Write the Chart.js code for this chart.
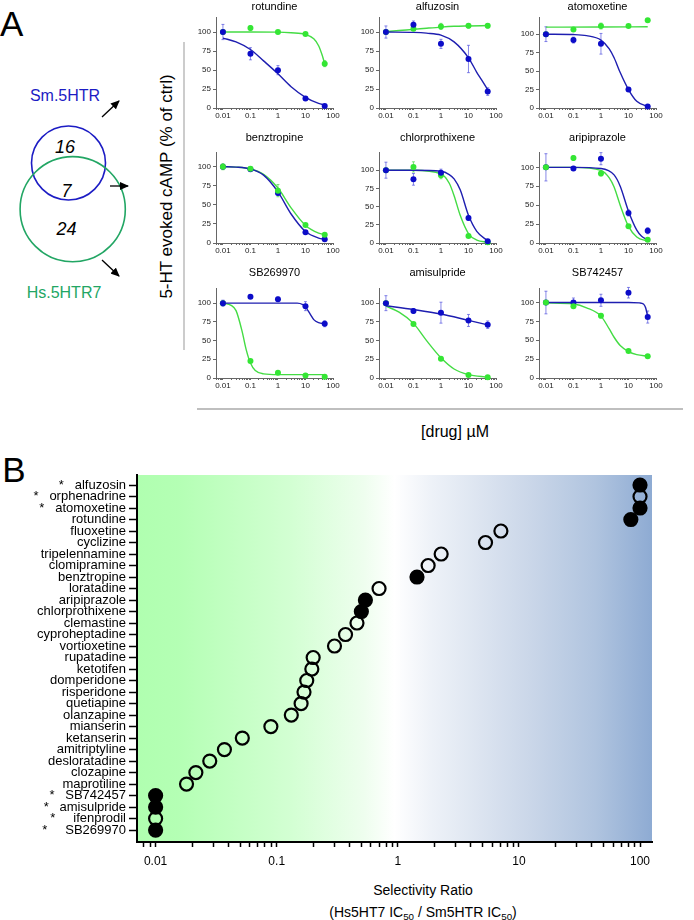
<!DOCTYPE html>
<html>
<head>
<meta charset="utf-8">
<script src="https://cdn.jsdelivr.net/npm/chart.js@4.4.1/dist/chart.umd.min.js"></script>
<style>
  body { margin: 0; background: #fff; font-family: "Liberation Sans", Arial, sans-serif; }
  #page { position: relative; width: 694px; height: 920px; overflow: hidden; }
  #page canvas, #page svg, .lbl { position: absolute; }
  .lbl { color: #000; white-space: nowrap; transform: translate(-50%, -50%); }
  sub { font-size: 70%; vertical-align: -0.3em; line-height: 0; }
</style>
</head>
<body>
<div id="page">
  <svg width="694" height="440" style="left:0;top:0">
    <defs>
      <marker id="ah" markerWidth="9" markerHeight="8" refX="8" refY="4" orient="auto" markerUnits="userSpaceOnUse">
        <path d="M0,0 L9,4 L0,8 z" fill="#000"/>
      </marker>
    </defs>
    <text x="0" y="36" font-size="35" font-family="Liberation Sans, Arial">A</text>
    <text x="65" y="101" font-size="16" fill="#1c1cc4" text-anchor="middle" font-family="Liberation Sans, Arial">Sm.5HTR</text>
    <circle cx="68.5" cy="163" r="37" fill="none" stroke="#1c1cc4" stroke-width="1.6"/>
    <circle cx="72.7" cy="209.2" r="52.6" fill="none" stroke="#22a664" stroke-width="1.6"/>
    <g font-size="18" font-style="italic" text-anchor="middle" font-family="Liberation Sans, Arial">
      <text x="65" y="153">16</text>
      <text x="66.5" y="197">7</text>
      <text x="66.5" y="235">24</text>
    </g>
    <text x="64" y="298" font-size="16" fill="#22a664" text-anchor="middle" font-family="Liberation Sans, Arial">Hs.5HTR7</text>
    <g stroke="#000" stroke-width="1.3" marker-end="url(#ah)">
      <line x1="102" y1="117" x2="119" y2="101"/>
      <line x1="110" y1="186" x2="128" y2="186"/>
      <line x1="102" y1="260" x2="119" y2="276"/>
    </g>
    <text transform="translate(172,186.5) rotate(-90)" font-size="17" text-anchor="middle" font-family="Liberation Sans, Arial">5-HT evoked cAMP (% of ctrl)</text>
    <line x1="184" y1="42" x2="184" y2="350" stroke="#999" stroke-width="1"/>
    <line x1="197" y1="409" x2="683" y2="409" stroke="#aaa" stroke-width="1.5"/>
  </svg>
  <div class="lbl" style="left:455px;top:432px;font-size:16px">[drug] µM</div>
  <div class="lbl" style="left:14px;top:470px;font-size:35px">B</div>
  <div class="lbl" style="left:423px;top:890px;font-size:14px">Selectivity Ratio</div>
  <div class="lbl" style="left:423px;top:912px;font-size:14px">(Hs5HT7 IC<sub>50</sub> / Sm5HTR IC<sub>50</sub>)</div>
</div>

<script>
// ---------- panel A: dose-response data ----------
const drugs = ["rotundine", "alfuzosin", "atomoxetine", "benztropine", "chlorprothixene",
               "aripiprazole", "SB269970", "amisulpride", "SB742457"];
const doses = [0.01, 0.1, 1, 10, 50];
const doseTickValues = [0.01, 0.1, 1, 10, 100];
const doseTickLabels = ["0.01", "0.1", "1", "10", "100"];
const pctTicks = [0, 25, 50, 75, 100];

// Sm.5HTR (blue) mean and error
const smMean = [
  [100, 71.4, 49.8, 12.6, 2.6],
  [100, 109.5, 84.4, 64.5, 21.6],
  [100, 92, 87, 25, 2.2],
  [100, 96.5, 65.5, 14, 5],
  [100, 87.4, 96.4, 34.2, 2.3],
  [100, 98.3, 111.4, 39.7, 16.2],
  [100, 108.7, 105.2, 96, 72.5],
  [100, 89.5, 87.3, 76.9, 71.2],
  [100, 100, 103, 113, 80.8]
];
const smErr = [
  [10, 8, 6, 2, 1.5],
  [8, 5, 6, 18, 5],
  [10, 4, 14, 2, 1],
  [2, 1.5, 3, 1.5, 1],
  [11, 8, 5, 3, 1],
  [18, 2, 8, 4, 4],
  [4, 0, 3, 6, 4],
  [10, 3, 14, 8, 5],
  [15, 6, 8, 7, 8]
];
// Hs.5HTR7 (green) mean and error
const hsMean = [
  [100, 105.2, 100, 97.4, 58.4],
  [100, 104.3, 107.4, 108.2, 108.2],
  [100, 106.3, 111, 111, 118.8],
  [100, 97.4, 68.6, 23.6, 10.9],
  [100, 104.5, 93.2, 9.5, 1],
  [100, 112.2, 91.7, 22.3, 4.4],
  [100, 22.7, 7, 3.5, 1.7],
  [100, 72, 25.8, 3.9, 0.9],
  [100, 95.2, 82.5, 35.8, 28.8]
];
const hsErr = [
  [0, 3, 2, 1.5, 4],
  [0, 2, 4, 3, 3],
  [0, 2, 4, 2, 0],
  [4, 2, 8, 2, 2],
  [0, 7, 5, 2, 1],
  [0, 3, 3, 2, 1],
  [0, 2, 1, 1, 1],
  [0, 2, 2, 1, 1],
  [0, 3, 3, 2, 2]
];
// fitted curves as [dose, %] pairs
const smFit = [
  [[0.01,92],[0.03,87],[0.1,77],[0.3,62],[1,45],[3,28],[10,14],[30,6],[50,4]],
  [[0.01,100],[0.1,99.5],[0.3,98.5],[1,96],[3,87],[10,66],[20,47],[30,37],[50,24]],
  [[0.01,100],[0.1,99.5],[0.3,98],[1,92],[2,80],[3,68],[5,48],[10,25],[20,9],[50,2]],
  [[0.01,100],[0.03,99.5],[0.1,97],[0.3,89],[1,67],[3,38],[10,15],[30,6.5],[50,5]],
  [[0.01,100],[0.1,100],[1,98.5],[2,94],[3,88],[5,73],[10,38],[20,16],[50,3]],
  [[0.01,100],[0.1,100],[1,98.5],[3,90],[5,75],[10,42],[20,17],[30,9],[50,4]],
  [[0.01,100],[1,100],[5,100],[8,98],[10,95],[15,85],[20,78],[30,74],[50,72.5]],
  [[0.01,96.5],[0.1,91.5],[1,85.5],[10,77],[50,71]],
  [[0.01,100],[10,100],[25,99.5],[35,98],[42,93],[50,81]]
];
const hsFit = [
  [[0.01,100],[0.1,100],[1,99.8],[3,99],[10,97],[20,91],[30,82],[40,70],[50,58]],
  [[0.01,100.5],[0.03,102],[0.1,103.5],[0.3,105],[1,106.5],[3,107.5],[10,108],[50,108.5]],
  [[0.01,109.5],[1,109.8],[50,110]],
  [[0.01,100],[0.03,99.5],[0.1,97],[0.3,90],[1,72],[3,46],[10,23],[30,13],[50,11]],
  [[0.01,100],[0.1,100],[1,95],[2,82],[3,65],[5,38],[10,13],[20,4],[50,1]],
  [[0.01,100],[0.1,100],[1,96],[2,86],[3,74],[5,50],[10,22],[20,8],[50,2.5]],
  [[0.01,100],[0.02,97],[0.03,90],[0.05,62],[0.07,38],[0.1,20],[0.15,10],[0.3,5.5],[1,4.5],[50,4.5]],
  [[0.01,96],[0.03,88],[0.1,73],[0.3,50],[1,27],[3,12],[10,4.5],[50,1]],
  [[0.01,99.5],[0.1,98],[0.3,93],[1,82],[2,65],[3,54],[5,43],[10,35],[20,31],[50,29]]
];
const yTop = [119.5, 119.5, 123, 119, 124.7, 120, 120, 120, 119];

// ---------- panel B: selectivity ratios ----------
const ratioDrugs = ["alfuzosin", "orphenadrine", "atomoxetine", "rotundine", "fluoxetine", "cyclizine",
  "tripelennamine", "clomipramine", "benztropine", "loratadine", "aripiprazole", "chlorprothixene",
  "clemastine", "cyproheptadine", "vortioxetine", "rupatadine", "ketotifen", "domperidone",
  "risperidone", "quetiapine", "olanzapine", "mianserin", "ketanserin", "amitriptyline",
  "desloratadine", "clozapine", "maprotiline", "SB742457", "amisulpride", "ifenprodil", "SB269970"];
const starred = ["alfuzosin", "orphenadrine", "atomoxetine", "SB742457", "amisulpride", "ifenprodil", "SB269970"];
const ratios = [100, 100, 100, 84, 7.1, 5.3, 2.28, 1.78, 1.44, 0.70, 0.54, 0.50, 0.46, 0.37, 0.30,
  0.20, 0.195, 0.177, 0.168, 0.159, 0.132, 0.0895, 0.052, 0.037, 0.028, 0.0215, 0.018,
  0.01, 0.01, 0.01, 0.01];
const tested = ["alfuzosin", "atomoxetine", "rotundine", "benztropine", "aripiprazole",
  "chlorprothixene", "SB742457", "amisulpride", "SB269970"];
const ratioTickValues = [0.01, 0.1, 1, 10, 100];
const ratioTickLabels = ["0.01", "0.1", "1", "10", "100"];

// ---------- shared ----------
Chart.defaults.font.family = "'Liberation Sans', Arial, sans-serif";
Chart.defaults.color = "#000";
Chart.defaults.animation = false;

const BLUE = "#0c0cc8", BLUE_LINE = "#1e1eb0", GREEN = "#34e634", GREEN_LINE = "#44dc44";
const page = document.getElementById("page");

// minor ticks 1..9 per decade between lo and hi
function logTicks(lo, hi) {
  const out = [];
  for (let e = -3; e <= 2; e++) {
    for (let m = 1; m <= 9; m++) {
      const v = +(m * Math.pow(10, e)).toPrecision(6);
      if (v >= lo && v <= hi) out.push(v);
    }
  }
  return out;
}
function labelFor(v, values, labels) {
  const k = values.findIndex(t => Math.abs(Math.log10(t) - Math.log10(v)) < 1e-6);
  return k >= 0 ? labels[k] : "";
}

const errorBars = {
  id: "errorBars",
  beforeDatasetsDraw(chart) {
    const ctx = chart.ctx, ys = chart.scales.y;
    chart.data.datasets.forEach((ds, i) => {
      if (!ds.errors) return;
      const meta = chart.getDatasetMeta(i);
      ctx.save();
      ctx.strokeStyle = ds.errorColor;
      ctx.lineWidth = 1;
      meta.data.forEach((pt, j) => {
        const e = ds.errors[j];
        if (!e) return;
        const v = ds.data[j].y;
        const y1 = ys.getPixelForValue(v + e), y2 = ys.getPixelForValue(v - e);
        ctx.beginPath();
        ctx.moveTo(pt.x, y1); ctx.lineTo(pt.x, y2);
        ctx.moveTo(pt.x - 1.5, y1); ctx.lineTo(pt.x + 1.5, y1);
        ctx.moveTo(pt.x - 1.5, y2); ctx.lineTo(pt.x + 1.5, y2);
        ctx.stroke();
      });
      ctx.restore();
    });
  }
};

// =========================
// PANEL A - 3x3 small charts
// =========================
const colAxis = [216, 379, 539];
const rows = [
  { top: 0, h: 124, gap: 4 },
  { top: 131, h: 128, gap: 8 },
  { top: 266, h: 128, gap: 9 }
];
const greenOnTop = [false, false, false, true, false, true, false, false, true];

drugs.forEach((name, i) => {
  const r = rows[Math.floor(i / 3)];
  const cv = document.createElement("canvas");
  cv.width = 155; cv.height = r.h;
  cv.style.left = (colAxis[i % 3] - 26) + "px";
  cv.style.top = r.top + "px";
  page.appendChild(cv);

  new Chart(cv, {
    type: "scatter",
    data: {
      datasets: [
        {
          data: doses.map((x, j) => ({ x, y: smMean[i][j] })),
          errors: smErr[i], errorColor: "rgba(70,70,220,0.65)",
          backgroundColor: BLUE, borderColor: BLUE, pointRadius: 3, borderWidth: 0,
          order: greenOnTop[i] ? 2 : 1
        },
        {
          data: doses.map((x, j) => ({ x, y: hsMean[i][j] })),
          errors: hsErr[i], errorColor: "rgba(60,210,60,0.65)",
          backgroundColor: GREEN, borderColor: GREEN, pointRadius: 3, borderWidth: 0,
          order: greenOnTop[i] ? 1 : 2
        },
        {
          data: smFit[i].map(([x, y]) => ({ x, y })),
          showLine: true, pointRadius: 0, borderColor: BLUE_LINE, borderWidth: 1.4,
          cubicInterpolationMode: "monotone", order: 3
        },
        {
          data: hsFit[i].map(([x, y]) => ({ x, y })),
          showLine: true, pointRadius: 0, borderColor: GREEN_LINE, borderWidth: 1.4,
          cubicInterpolationMode: "monotone", order: 4
        }
      ]
    },
    options: {
      responsive: false,
      clip: false,
      layout: { padding: { left: 0, right: 12, top: 0, bottom: 0 } },
      plugins: {
        legend: { display: false },
        tooltip: { enabled: false },
        title: {
          display: true, text: name, fullSize: false,
          font: { size: 11, weight: "normal" }, color: "#000",
          padding: { top: 0, bottom: r.gap }
        }
      },
      scales: {
        x: {
          type: "logarithmic", min: 0.0056, max: 100,
          afterBuildTicks: s => { s.ticks = logTicks(0.0056, 100).map(v => ({ value: v })); },
          afterFit: s => { s.height = 16; },
          border: { color: "#666", width: 1 },
          grid: { drawOnChartArea: false, tickLength: 2, tickColor: "#666" },
          ticks: {
            autoSkip: false, maxRotation: 0, padding: 1, font: { size: 8 }, color: "#222",
            callback: v => labelFor(v, doseTickValues, doseTickLabels)
          }
        },
        y: {
          min: 0, max: yTop[i],
          afterBuildTicks: s => { s.ticks = pctTicks.map(v => ({ value: v })); },
          afterFit: s => { s.width = 26; },
          border: { color: "#666", width: 1 },
          grid: { drawOnChartArea: false, tickLength: 3, tickColor: "#666" },
          ticks: { padding: 2, font: { size: 8 }, color: "#222", callback: v => String(v) }
        }
      }
    },
    plugins: [errorBars]
  });
});

// =========================
// PANEL B - selectivity ratio
// =========================
const bgGradient = {
  id: "bgGradient",
  beforeDraw(chart) {
    const { ctx, chartArea: a } = chart;
    const g = ctx.createLinearGradient(a.left, 0, a.right, 0);
    g.addColorStop(0, "#b0ffb0");
    g.addColorStop(0.08, "#b4ffb4");
    g.addColorStop(0.3, "#d3ffd3");
    g.addColorStop(0.44, "#eefeee");
    g.addColorStop(0.5, "#ffffff");
    g.addColorStop(0.57, "#eef2f8");
    g.addColorStop(0.76, "#cbd7e9");
    g.addColorStop(0.89, "#b0c4df");
    g.addColorStop(1, "#8eabd3");
    ctx.save();
    ctx.fillStyle = g;
    ctx.fillRect(a.left, a.top, a.width, a.height);
    ctx.restore();
  }
};

const cvB = document.createElement("canvas");
cvB.width = 694; cvB.height = 480;
cvB.style.left = "0px"; cvB.style.top = "440px";
page.appendChild(cvB);

const yLabels = ratioDrugs.map(n => {
  if (!starred.includes(n)) return n;
  const gap = (n === "ifenprodil" || n === "SB269970") ? "     " : "   ";
  return "*" + gap + n;
});

new Chart(cvB, {
  type: "scatter",
  data: {
    datasets: [{
      data: ratioDrugs.map((n, k) => ({ x: ratios[k], y: k })),
      pointRadius: 6.5,
      pointBorderWidth: 2.2,
      pointBorderColor: "#000",
      pointBackgroundColor: ratioDrugs.map(n => tested.includes(n) ? "#000" : "rgba(0,0,0,0)")
    }]
  },
  options: {
    responsive: false,
    clip: false,
    layout: { padding: { left: 0, right: 42, top: 35, bottom: 0 } },
    plugins: { legend: { display: false }, tooltip: { enabled: false } },
    scales: {
      x: {
        type: "logarithmic", min: 0.00702, max: 125.6,
        afterBuildTicks: s => { s.ticks = logTicks(0.00702, 100).map(v => ({ value: v })); },
        afterFit: s => { s.height = 78; },
        border: { color: "#000", width: 2 },
        grid: { drawOnChartArea: false, tickLength: 5, tickColor: "#000", tickWidth: 1.5 },
        ticks: {
          autoSkip: false, maxRotation: 0, padding: 7, font: { size: 12 },
          callback: v => labelFor(v, ratioTickValues, ratioTickLabels)
        }
      },
      y: {
        reverse: true, min: -0.87, max: 31.04,
        afterBuildTicks: s => { s.ticks = ratioDrugs.map((n, k) => ({ value: k })); },
        afterFit: s => { s.width = 137; },
        border: { color: "#000", width: 2 },
        grid: { drawOnChartArea: false, tickLength: 8, tickColor: "#000", tickWidth: 1.5 },
        ticks: { autoSkip: false, padding: 3, font: { size: 13 }, callback: v => yLabels[v] }
      }
    }
  },
  plugins: [bgGradient]
});
</script>
</body>
</html>
